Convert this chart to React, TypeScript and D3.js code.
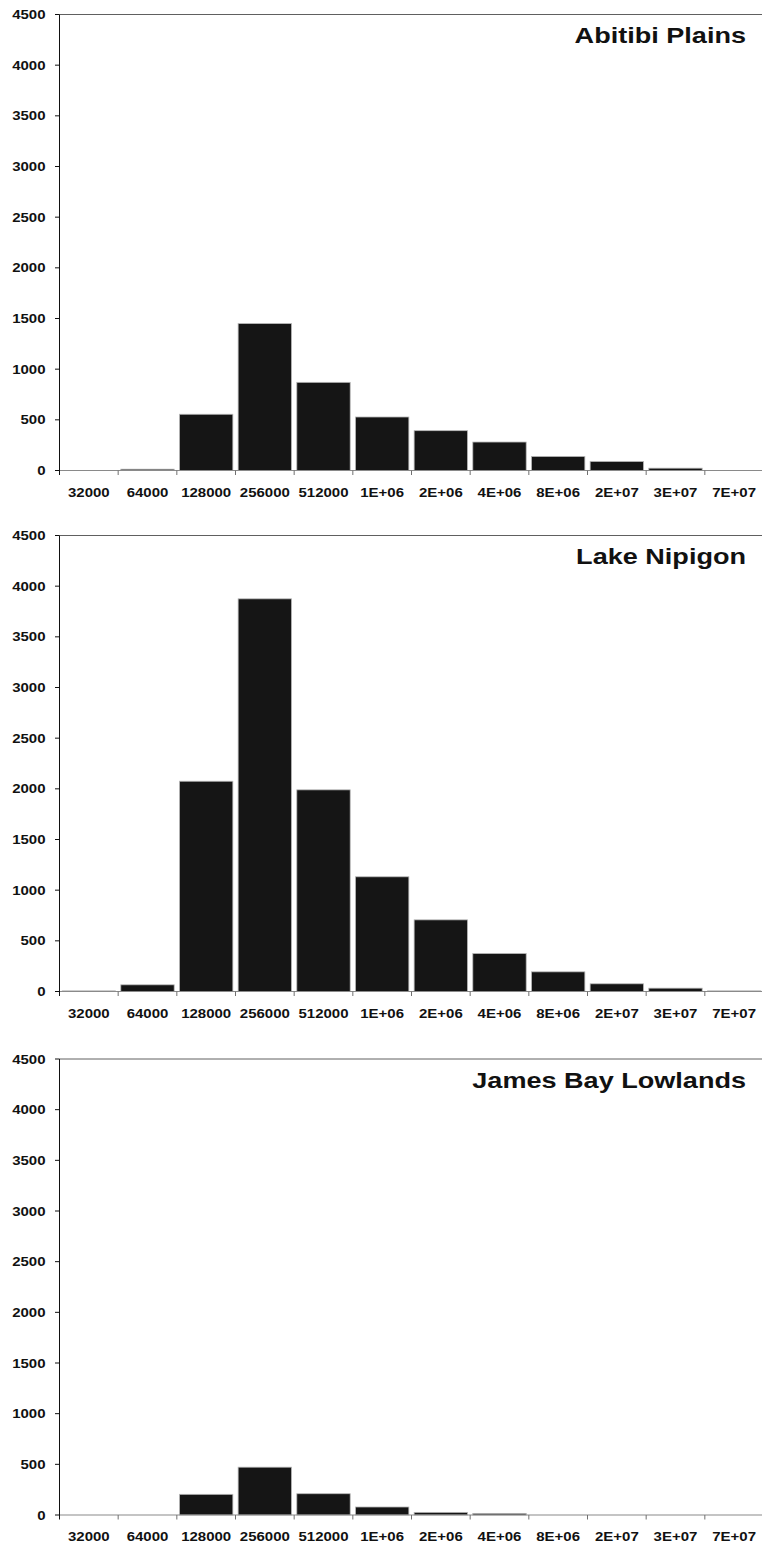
import React from "react";
import * as d3 from "d3";

const categories = ["32000", "64000", "128000", "256000", "512000", "1E+06", "2E+06", "4E+06", "8E+06", "2E+07", "3E+07", "7E+07"];
const abitibiValues = [0, 13, 555, 1450, 870, 528, 393, 281, 139, 89, 23, 0];
const nipigonValues = [6, 66, 2075, 3875, 1990, 1132, 707, 375, 194, 76, 33, 6];
const jamesBayValues = [0, 0, 204, 472, 210, 79, 26, 16, 0, 0, 0, 0];
const yTicks = [0, 500, 1000, 1500, 2000, 2500, 3000, 3500, 4000, 4500];
const panelTitles = ["Abitibi Plains", "Lake Nipigon", "James Bay Lowlands"];
const panelSeries = [abitibiValues, nipigonValues, jamesBayValues];

const W = 762;
const H = 1548;
const panelTops = [14.5, 535.5, 1059];
const plotH = 456;
const left = 59.5;
const right = 763.5;
const FONT = "'Liberation Sans', Arial, sans-serif";
const STRETCH = 1.2;

function Panel({ top, title, values }: { top: number; title: string; values: number[] }) {
  const x = d3.scaleBand<string>().domain(categories).range([left, right]).paddingInner(0.09).paddingOuter(0.045);
  const y = d3.scaleLinear().domain([0, 4500]).range([top + plotH, top]);
  const step = x.step();
  const zeroY = y(0);
  return (
    <g>
      {/* top border */}
      <line x1={left} x2={W} y1={top} y2={top} stroke="#606060" strokeWidth={1} />
      {/* bars */}
      {values.map((v, i) =>
        v > 0 ? (
          <rect
            key={i}
            x={x(categories[i])!}
            y={y(v)}
            width={x.bandwidth()}
            height={zeroY - y(v)}
            fill="#151515"
            stroke="#b8b8b8"
            strokeWidth={0.8}
          />
        ) : null
      )}
      {/* x axis */}
      <line x1={left} x2={W} y1={zeroY} y2={zeroY} stroke="#8a8a8a" strokeWidth={1.2} />
      {categories.map((c, i) =>
        i > 0 ? (
          <line key={"t" + i} x1={left + i * step} x2={left + i * step} y1={zeroY} y2={zeroY + 4.5} stroke="#707070" strokeWidth={1} />
        ) : null
      )}
      {categories.map((c) => (
        <text
          key={"l" + c}
          transform={`translate(${x(c)! + x.bandwidth() / 2},${zeroY + 26}) scale(${STRETCH},1)`}
          textAnchor="middle"
          fontFamily={FONT}
          fontWeight="bold"
          fontSize={12.5}
          fill="#111"
        >
          {c}
        </text>
      ))}
      {/* y axis */}
      <line x1={left} x2={left} y1={top} y2={zeroY + 4.5} stroke="#111" strokeWidth={1} />
      {yTicks.map((t) => (
        <g key={"y" + t}>
          <line x1={left - 4.5} x2={left} y1={y(t)} y2={y(t)} stroke="#111" strokeWidth={1} />
          <text
            transform={`translate(${45.5},${y(t) + 4.5}) scale(${STRETCH},1)`}
            textAnchor="end"
            fontFamily={FONT}
            fontWeight="bold"
            fontSize={12.5}
            fill="#111"
          >
            {t}
          </text>
        </g>
      ))}
      {/* title */}
      <text
        transform={`translate(${746},${top + 28.5}) scale(1.23,1)`}
        textAnchor="end"
        fontFamily={FONT}
        fontWeight="bold"
        fontSize={22}
        fill="#111"
      >
        {title}
      </text>
    </g>
  );
}

export default function App() {
  return (
    <>
      <style>{"body{margin:0;background:#fff}"}</style>
      <svg width={W} height={H} viewBox={`0 0 ${W} ${H}`} style={{ display: "block" }}>
        <rect x={0} y={0} width={W} height={H} fill="#fff" />
        {panelTops.map((t, i) => (
          <Panel key={i} top={t} title={panelTitles[i]} values={panelSeries[i]} />
        ))}
      </svg>
    </>
  );
}
